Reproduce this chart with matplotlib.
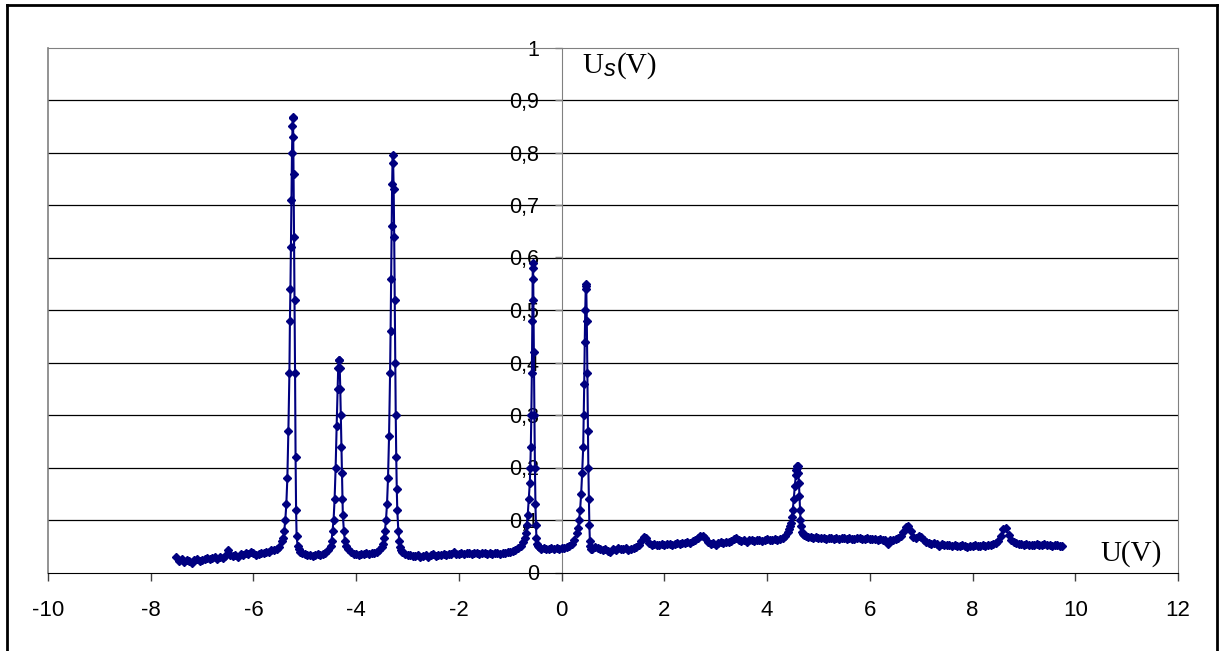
import numpy as np
import matplotlib
matplotlib.use('Agg')
import matplotlib.pyplot as plt
from matplotlib.lines import Line2D
from matplotlib.ticker import FuncFormatter

plt.rcParams['font.family'] = ['Liberation Sans', 'DejaVu Sans']
plt.rcParams['axes.unicode_minus'] = False

# ---- measured data, read off the sweep: U (V) vs Us (V) ----
# baseline stretches, sampled every 0.05 V: (start, stop, values)
base_a = (-7.50, -5.45, [0.030, 0.022, 0.025, 0.020, 0.024, 0.022, 0.018, 0.023, 0.025, 0.022,
                         0.024, 0.026, 0.028, 0.025, 0.027, 0.030, 0.026, 0.029, 0.028, 0.032,
                         0.042, 0.033, 0.031, 0.034, 0.030, 0.036, 0.033, 0.038, 0.036, 0.040,
                         0.037, 0.034, 0.036, 0.037, 0.038, 0.039, 0.040, 0.042, 0.043, 0.045,
                         0.048, 0.060])
base_b = (-5.05, -4.50, [0.038, 0.035, 0.033, 0.034, 0.032, 0.034, 0.035, 0.034, 0.036, 0.038,
                         0.042, 0.050])
base_c = (-4.15, -3.50, [0.045, 0.040, 0.036, 0.035, 0.034, 0.036, 0.035, 0.037, 0.036, 0.038,
                         0.037, 0.040, 0.042, 0.048])
base_d = (-3.10, -0.75, [0.040, 0.036, 0.034, 0.033, 0.032, 0.031, 0.033, 0.030, 0.032, 0.033,
                         0.030, 0.034, 0.036, 0.032, 0.034, 0.033, 0.035, 0.034, 0.036, 0.035,
                         0.040, 0.036, 0.035, 0.037, 0.036, 0.038, 0.037, 0.036, 0.038, 0.037,
                         0.036, 0.038, 0.037, 0.036, 0.038, 0.035, 0.037, 0.038, 0.036, 0.038,
                         0.037, 0.039, 0.040, 0.041, 0.043, 0.046, 0.050, 0.058])
base_e = (-0.45, 0.30, [0.048, 0.045, 0.046, 0.044, 0.045, 0.047, 0.044, 0.046, 0.045, 0.046,
                        0.047, 0.048, 0.050, 0.055, 0.062, 0.075])
base_f = (0.65, 4.40, [0.048, 0.046, 0.044, 0.043, 0.045, 0.041, 0.040, 0.044, 0.043, 0.046,
                       0.045, 0.044, 0.046, 0.042, 0.045, 0.047, 0.048, 0.052, 0.060, 0.068,
                       0.066, 0.056, 0.053, 0.054, 0.053, 0.052, 0.054, 0.053, 0.055, 0.054,
                       0.052, 0.055, 0.056, 0.054, 0.057, 0.056, 0.058, 0.057, 0.060, 0.062,
                       0.066, 0.069, 0.070, 0.065, 0.058, 0.054, 0.056, 0.053, 0.057, 0.058,
                       0.057, 0.059, 0.058, 0.060, 0.063, 0.066, 0.062, 0.060, 0.061, 0.059,
                       0.062, 0.061, 0.060, 0.062, 0.061, 0.060, 0.062, 0.063, 0.061, 0.062,
                       0.063, 0.062, 0.064, 0.066, 0.070, 0.078])
base_g = (4.75, 9.75, [0.070, 0.068, 0.067, 0.066, 0.067, 0.066, 0.065, 0.066, 0.064, 0.065,
                       0.066, 0.064, 0.065, 0.063, 0.065, 0.066, 0.064, 0.065, 0.063, 0.064,
                       0.066, 0.065, 0.064, 0.063, 0.065, 0.064, 0.063, 0.064, 0.062, 0.063,
                       0.061, 0.062, 0.055, 0.061, 0.062, 0.063, 0.065, 0.070, 0.078, 0.086,
                       0.088, 0.080, 0.068, 0.066, 0.070, 0.068, 0.062, 0.058, 0.057, 0.055,
                       0.056, 0.054, 0.050, 0.055, 0.053, 0.052, 0.053, 0.051, 0.052, 0.050,
                       0.051, 0.052, 0.050, 0.049, 0.051, 0.050, 0.052, 0.051, 0.050, 0.052,
                       0.051, 0.053, 0.052, 0.054, 0.056, 0.060, 0.070, 0.082, 0.085, 0.072,
                       0.062, 0.058, 0.056, 0.055, 0.054, 0.053, 0.054, 0.052, 0.053, 0.052,
                       0.054, 0.053, 0.052, 0.054, 0.053, 0.052, 0.051, 0.053, 0.052, 0.051,
                       0.050])

# resonance peaks, finer sampling
peak1_u = [-5.42, -5.40, -5.38, -5.36, -5.34, -5.32, -5.30, -5.29, -5.28, -5.27, -5.26, -5.25, -5.24,
           -5.235, -5.23, -5.225, -5.22, -5.21, -5.20, -5.19, -5.18, -5.17, -5.16, -5.14, -5.12, -5.10]
peak1_s = [0.065, 0.08, 0.10, 0.13, 0.18, 0.27, 0.38, 0.48, 0.54, 0.62, 0.71, 0.80, 0.85,
           0.868, 0.865, 0.83, 0.76, 0.64, 0.52, 0.38, 0.22, 0.12, 0.07, 0.05, 0.045, 0.040]
peak2_u = [-4.48, -4.46, -4.44, -4.42, -4.40, -4.38, -4.36, -4.35, -4.34, -4.33, -4.32, -4.31,
           -4.30, -4.29, -4.28, -4.27, -4.26, -4.24, -4.22, -4.20]
peak2_s = [0.06, 0.08, 0.10, 0.14, 0.20, 0.28, 0.35, 0.39, 0.405, 0.405, 0.39, 0.35,
           0.30, 0.24, 0.19, 0.14, 0.11, 0.08, 0.06, 0.05]
peak3_u = [-3.48, -3.46, -3.44, -3.42, -3.40, -3.38, -3.36, -3.34, -3.33, -3.32, -3.31, -3.30, -3.29,
           -3.28, -3.27, -3.26, -3.25, -3.24, -3.23, -3.22, -3.21, -3.20, -3.18, -3.16, -3.14, -3.12]
peak3_s = [0.055, 0.065, 0.08, 0.10, 0.13, 0.18, 0.26, 0.38, 0.46, 0.56, 0.66, 0.74, 0.795,
           0.78, 0.73, 0.64, 0.52, 0.40, 0.30, 0.22, 0.16, 0.12, 0.08, 0.06, 0.048, 0.042]
peak4_u = [-0.72, -0.70, -0.68, -0.66, -0.64, -0.62, -0.61, -0.60, -0.59, -0.58, -0.57, -0.565,
           -0.56, -0.555, -0.55, -0.54, -0.53, -0.52, -0.51, -0.50, -0.49, -0.48, -0.46]
peak4_s = [0.065, 0.075, 0.09, 0.11, 0.14, 0.17, 0.20, 0.24, 0.30, 0.38, 0.48, 0.56,
           0.59, 0.58, 0.52, 0.42, 0.30, 0.20, 0.13, 0.09, 0.065, 0.055, 0.050]
peak5_u = [0.32, 0.34, 0.36, 0.38, 0.40, 0.42, 0.43, 0.44, 0.45, 0.46, 0.47, 0.475,
           0.48, 0.49, 0.50, 0.51, 0.52, 0.53, 0.54, 0.55, 0.56, 0.58, 0.60]
peak5_s = [0.085, 0.10, 0.12, 0.15, 0.19, 0.24, 0.30, 0.36, 0.44, 0.50, 0.545, 0.55,
           0.54, 0.48, 0.38, 0.27, 0.20, 0.14, 0.09, 0.06, 0.05, 0.045, 0.044]
peak6_u = [4.42, 4.44, 4.46, 4.48, 4.50, 4.52, 4.54, 4.56, 4.57, 4.58, 4.59, 4.60, 4.61,
           4.62, 4.63, 4.64, 4.65, 4.66, 4.68, 4.70, 4.72]
peak6_s = [0.082, 0.088, 0.095, 0.105, 0.12, 0.14, 0.165, 0.185, 0.195, 0.20, 0.203, 0.202, 0.19,
           0.17, 0.145, 0.12, 0.10, 0.088, 0.078, 0.073, 0.071]

u_parts, s_parts = [], []
for a, b, vals in [base_a, base_b, base_c, base_d, base_e, base_f, base_g]:
    u_parts.append(np.linspace(a, b, len(vals)))
    s_parts.append(np.array(vals))
for pu, ps in [(peak1_u, peak1_s), (peak2_u, peak2_s), (peak3_u, peak3_s),
               (peak4_u, peak4_s), (peak5_u, peak5_s), (peak6_u, peak6_s)]:
    u_parts.append(np.array(pu))
    s_parts.append(np.array(ps))
U = np.concatenate(u_parts)
Us = np.concatenate(s_parts)
order = np.argsort(U, kind='stable')
U, Us = U[order], Us[order]

# ---- figure ----
W, H = 1219, 651
fig = plt.figure(figsize=(W / 100, H / 100), dpi=100)
ax = fig.add_axes([48 / W, (H - 572.5) / H, (1178 - 48) / W, 525 / H])

ax.plot(U, Us, color='#000080', lw=1.5, marker='D', ms=3.8, mec='#000080', mfc='#000080', zorder=3)

ax.set_xlim(-10, 12)
ax.set_ylim(0, 1)
ax.set_xticks(np.arange(-10, 13, 2))
ax.set_yticks(np.arange(0, 1.01, 0.1))
ax.yaxis.set_major_formatter(FuncFormatter(lambda v, p: ('%g' % round(v, 1)).replace('.', ',')))

for yv in np.arange(0.1, 0.95, 0.1):
    ax.axhline(yv, color='black', lw=0.9, zorder=1)

# y axis crosses at U = 0
ax.spines['left'].set_position(('data', 0))
ax.spines['left'].set_color('#808080')
ax.spines['top'].set_color('#808080')
ax.spines['right'].set_color('#808080')
ax.spines['bottom'].set_color('black')
ax.axvline(-10, color='#808080', lw=1.2, clip_on=False, zorder=1)

ax.tick_params(axis='x', direction='out', length=6, width=1, color='#404040', pad=14,
               labelsize=16)
ax.tick_params(axis='y', direction='out', length=5, width=1, color='#808080', pad=11,
               labelsize=15.5)

# axis titles
def px(x, y):
    return x / W, (H - y) / H

t_u = fig.text(*px(582, 79), 'U', fontfamily='Liberation Serif', fontsize=21, va='bottom')
t_s = ax.annotate('s', xy=(1, 0), xycoords=t_u, xytext=(0.5, -1.5), textcoords='offset points',
                  fontfamily='Liberation Sans', fontstyle='italic', fontsize=17,
                  ha='left', va='bottom', annotation_clip=False)
ax.annotate('(V)', xy=(1, 0), xycoords=(t_s, t_u), xytext=(1, 0), textcoords='offset points',
            fontfamily='Liberation Serif', fontsize=21, ha='left', va='bottom',
            annotation_clip=False)
fig.text(*px(1100, 567), 'U(V)', fontfamily='Liberation Serif', fontsize=21, va='bottom')

# outer frame
fw = 2.0
fig.add_artist(Line2D([7 / W, 7 / W], [0, 1 - 5 / H], color='black', lw=fw))
fig.add_artist(Line2D([7 / W, 1217 / W], [1 - 5 / H, 1 - 5 / H], color='black', lw=fw))
fig.add_artist(Line2D([1217 / W, 1217 / W], [0, 1 - 5 / H], color='black', lw=fw))

fig.savefig('out.png', dpi=100)
